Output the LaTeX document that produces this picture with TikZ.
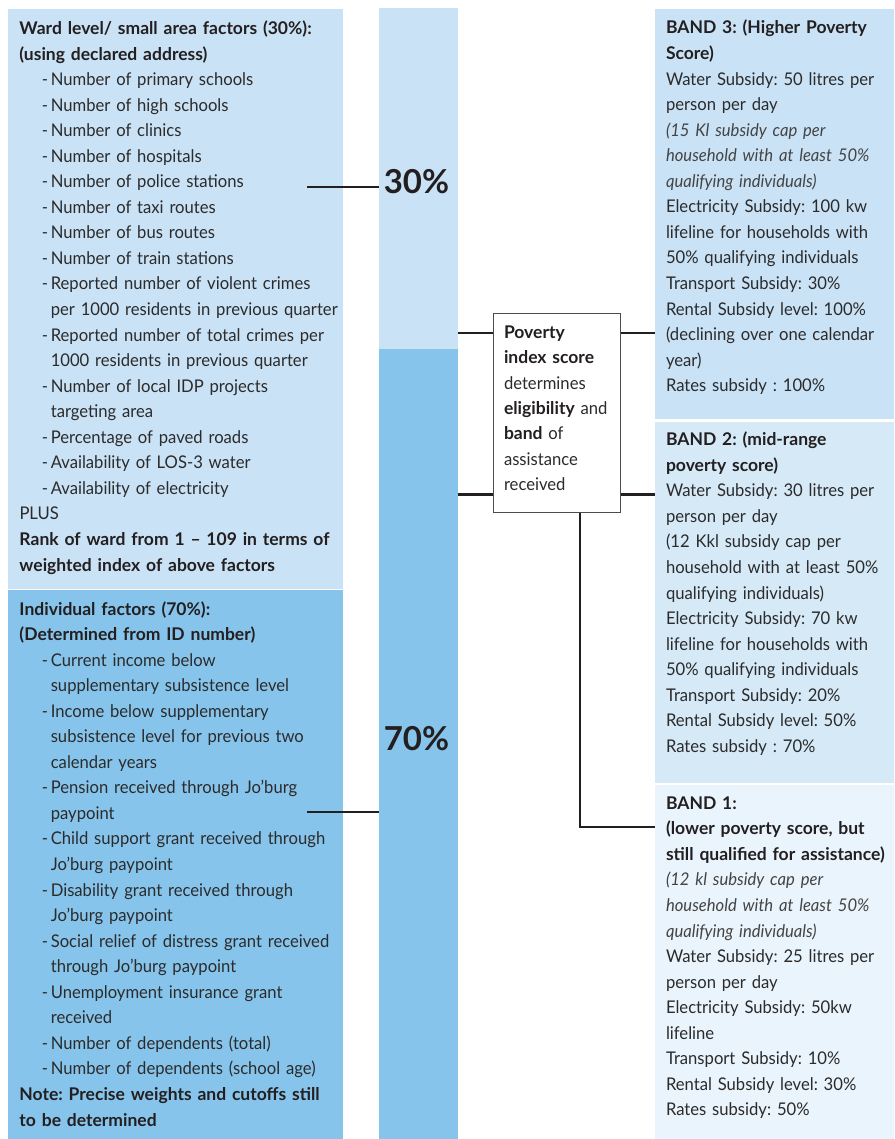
\documentclass[tikz,border=0pt]{standalone}
\usepackage{fontspec}
\setmainfont{Lato}[UprightFeatures={FakeStretch=0.95},ItalicFeatures={FakeStretch=0.95}]
\definecolor{boxlight}{HTML}{CAE2F5}
\definecolor{boxdark}{HTML}{87C4EB}
\definecolor{boxmid}{HTML}{D6E9F7}
\definecolor{boxpale}{HTML}{EAF4FC}
\definecolor{txt}{HTML}{2B2B2B}
\definecolor{itxt}{HTML}{444444}
\definecolor{linec}{HTML}{231F20}
\newcommand\itm[1]{\hspace*{22.3pt}\makebox[9pt][l]{-}#1}
\newcommand\cnt[1]{\hspace*{31.3pt}#1}
\newcommand\hb[1]{\textbf{\color{linec}#1}}
\newcommand\ii[1]{\textit{\color{itxt}#1}}
\frenchspacing
\begin{document}
\begin{tikzpicture}[x=1pt,y=-1pt,
  panel/.style={anchor=north west, inner sep=0, outer sep=0, draw=none},
  txtblock/.style={anchor=base west, inner sep=0, outer sep=0, align=left, text width=400pt, text=txt,
     font={\fontsize{17.5pt}{25.55pt}\selectfont\frenchspacing}},
  pct/.style={anchor=base, inner sep=0, text=linec, font={\fontsize{33pt}{36pt}\selectfont\bfseries}},
  conn/.style={draw=linec, line width=2.6pt},
  scorebox/.style={anchor=north west, draw=black!70, line width=1.2pt, fill=white, inner sep=0,
     minimum width=127pt, minimum height=199pt}]
\useasboundingbox (0,0) rectangle (894,1139);
% panels
\node[panel, fill=boxlight, minimum width=335pt, minimum height=580pt] (ward) at (8,9) {};
\node[panel, fill=boxdark, minimum width=335pt, minimum height=549pt] (indiv) at (8,590) {};
\node[panel, fill=boxlight, minimum width=79pt, minimum height=341pt] (bartop) at (379,8) {};
\node[panel, fill=boxdark, minimum width=79pt, minimum height=790pt] (barbot) at (379,349) {};
\node[panel, fill=boxlight, minimum width=239pt, minimum height=410pt] (band3) at (655,9) {};
\node[panel, fill=boxmid, minimum width=239pt, minimum height=361pt] (band2) at (655,422) {};
\node[panel, fill=boxpale, minimum width=239pt, minimum height=354pt] (band1) at (655,785) {};
\node[scorebox] (score) at (493,312.5) {};
% percentages
\node[pct] (p30) at (416.5,194) {30\%};
\node[pct] (p70) at (416.5,750) {70\%};
% connectors
\coordinate (c30) at (307,187);
\coordinate (c70) at (307,812);
\draw[conn] (c30) -- (c30 -| bartop.west);
\draw[conn] (c70) -- (c70 -| barbot.west);
\coordinate (r1) at (493,333);
\coordinate (r2) at (493,494.5);
\draw[conn] (r1 -| bartop.east) -- (r1);
\draw[conn] (r2 -| barbot.east) -- (r2);
\draw[conn] (r1 -| score.east) -- (r1 -| band3.west);
\draw[conn] (r2 -| score.east) -- (r2 -| band2.west);
\coordinate (dn) at (580,827);
\draw[conn] (score.south -| dn) -- (dn) -- (dn -| band1.west);
% texts
\node[txtblock] (wardtxt) at (19.5,34.5) {%
\hb{Ward level/ small area factors (30\%):}\\
\hb{(using declared address)}\\
\itm{Number of primary schools}\\
\itm{Number of high schools}\\
\itm{Number of clinics}\\
\itm{Number of hospitals}\\
\itm{Number of police stations}\\
\itm{Number of taxi routes}\\
\itm{Number of bus routes}\\
\itm{Number of train stations}\\
\itm{Reported number of violent crimes}\\
\cnt{per 1000 residents in previous quarter}\\
\itm{Reported number of total crimes per}\\
\cnt{1000 residents in previous quarter}\\
\itm{Number of local IDP projects}\\
\cnt{targeting area}\\
\itm{Percentage of paved roads}\\
\itm{Availability of LOS-3 water}\\
\itm{Availability of electricity}\\
PLUS\\
\hb{Rank of ward from 1 – 109 in terms of}\\
\hb{weighted index of above factors}};
\node[txtblock] (indivtxt) at (19.5,615) {%
\hb{Individual factors (70\%):}\\
\hb{(Determined from ID number)}\\
\itm{Current income below}\\
\cnt{supplementary subsistence level}\\
\itm{Income below supplementary}\\
\cnt{subsistence level for previous two}\\
\cnt{calendar years}\\
\itm{Pension received through Jo’burg}\\
\cnt{paypoint}\\
\itm{Child support grant received through}\\
\cnt{Jo’burg paypoint}\\
\itm{Disability grant received through}\\
\cnt{Jo’burg paypoint}\\
\itm{Social relief of distress grant received}\\
\cnt{through Jo’burg paypoint}\\
\itm{Unemployment insurance grant}\\
\cnt{received}\\
\itm{Number of dependents (total)}\\
\itm{Number of dependents (school age)}\\
\hb{Note: Precise weights and cutoffs still}\\
\hb{to be determined}};
\node[txtblock] (b3txt) at (666,34) {%
\hb{BAND 3: (Higher Poverty}\\
\hb{Score)}\\
Water Subsidy: 50 litres per\\
person per day\\
\ii{(15 Kl subsidy cap per}\\
\ii{household with at least 50\%}\\
\ii{qualifying individuals)}\\
Electricity Subsidy: 100 kw\\
lifeline for households with\\
50\% qualifying individuals\\
Transport Subsidy: 30\%\\
Rental Subsidy level: 100\%\\
(declining over one calendar\\
year)\\
Rates subsidy : 100\%};
\node[txtblock] (b2txt) at (666,445.7) {%
\hb{BAND 2: (mid-range}\\
\hb{poverty score)}\\
Water Subsidy: 30 litres per\\
person per day\\
(12 Kkl subsidy cap per\\
household with at least 50\%\\
qualifying individuals)\\
Electricity Subsidy: 70 kw\\
lifeline for households with\\
50\% qualifying individuals\\
Transport Subsidy: 20\%\\
Rental Subsidy level: 50\%\\
Rates subsidy : 70\%};
\node[txtblock] (b1txt) at (666,809.3) {%
\hb{BAND 1:}\\
\hb{(lower poverty score, but}\\
\hb{still qualified for assistance)}\\
\ii{(12 kl subsidy cap per}\\
\ii{household with at least 50\%}\\
\ii{qualifying individuals)}\\
Water Subsidy: 25 litres per\\
person per day\\
Electricity Subsidy: 50kw\\
lifeline\\
Transport Subsidy: 10\%\\
Rental Subsidy level: 30\%\\
Rates subsidy: 50\%};
\node[txtblock, font={\fontsize{17.5pt}{25.4pt}\selectfont\frenchspacing}] (scoretxt) at (504,338.3) {%
\hb{Poverty}\\
\hb{index score}\\
determines\\
\hb{eligibility} and\\
\hb{band} of\\
assistance\\
received};
\end{tikzpicture}
\end{document}
